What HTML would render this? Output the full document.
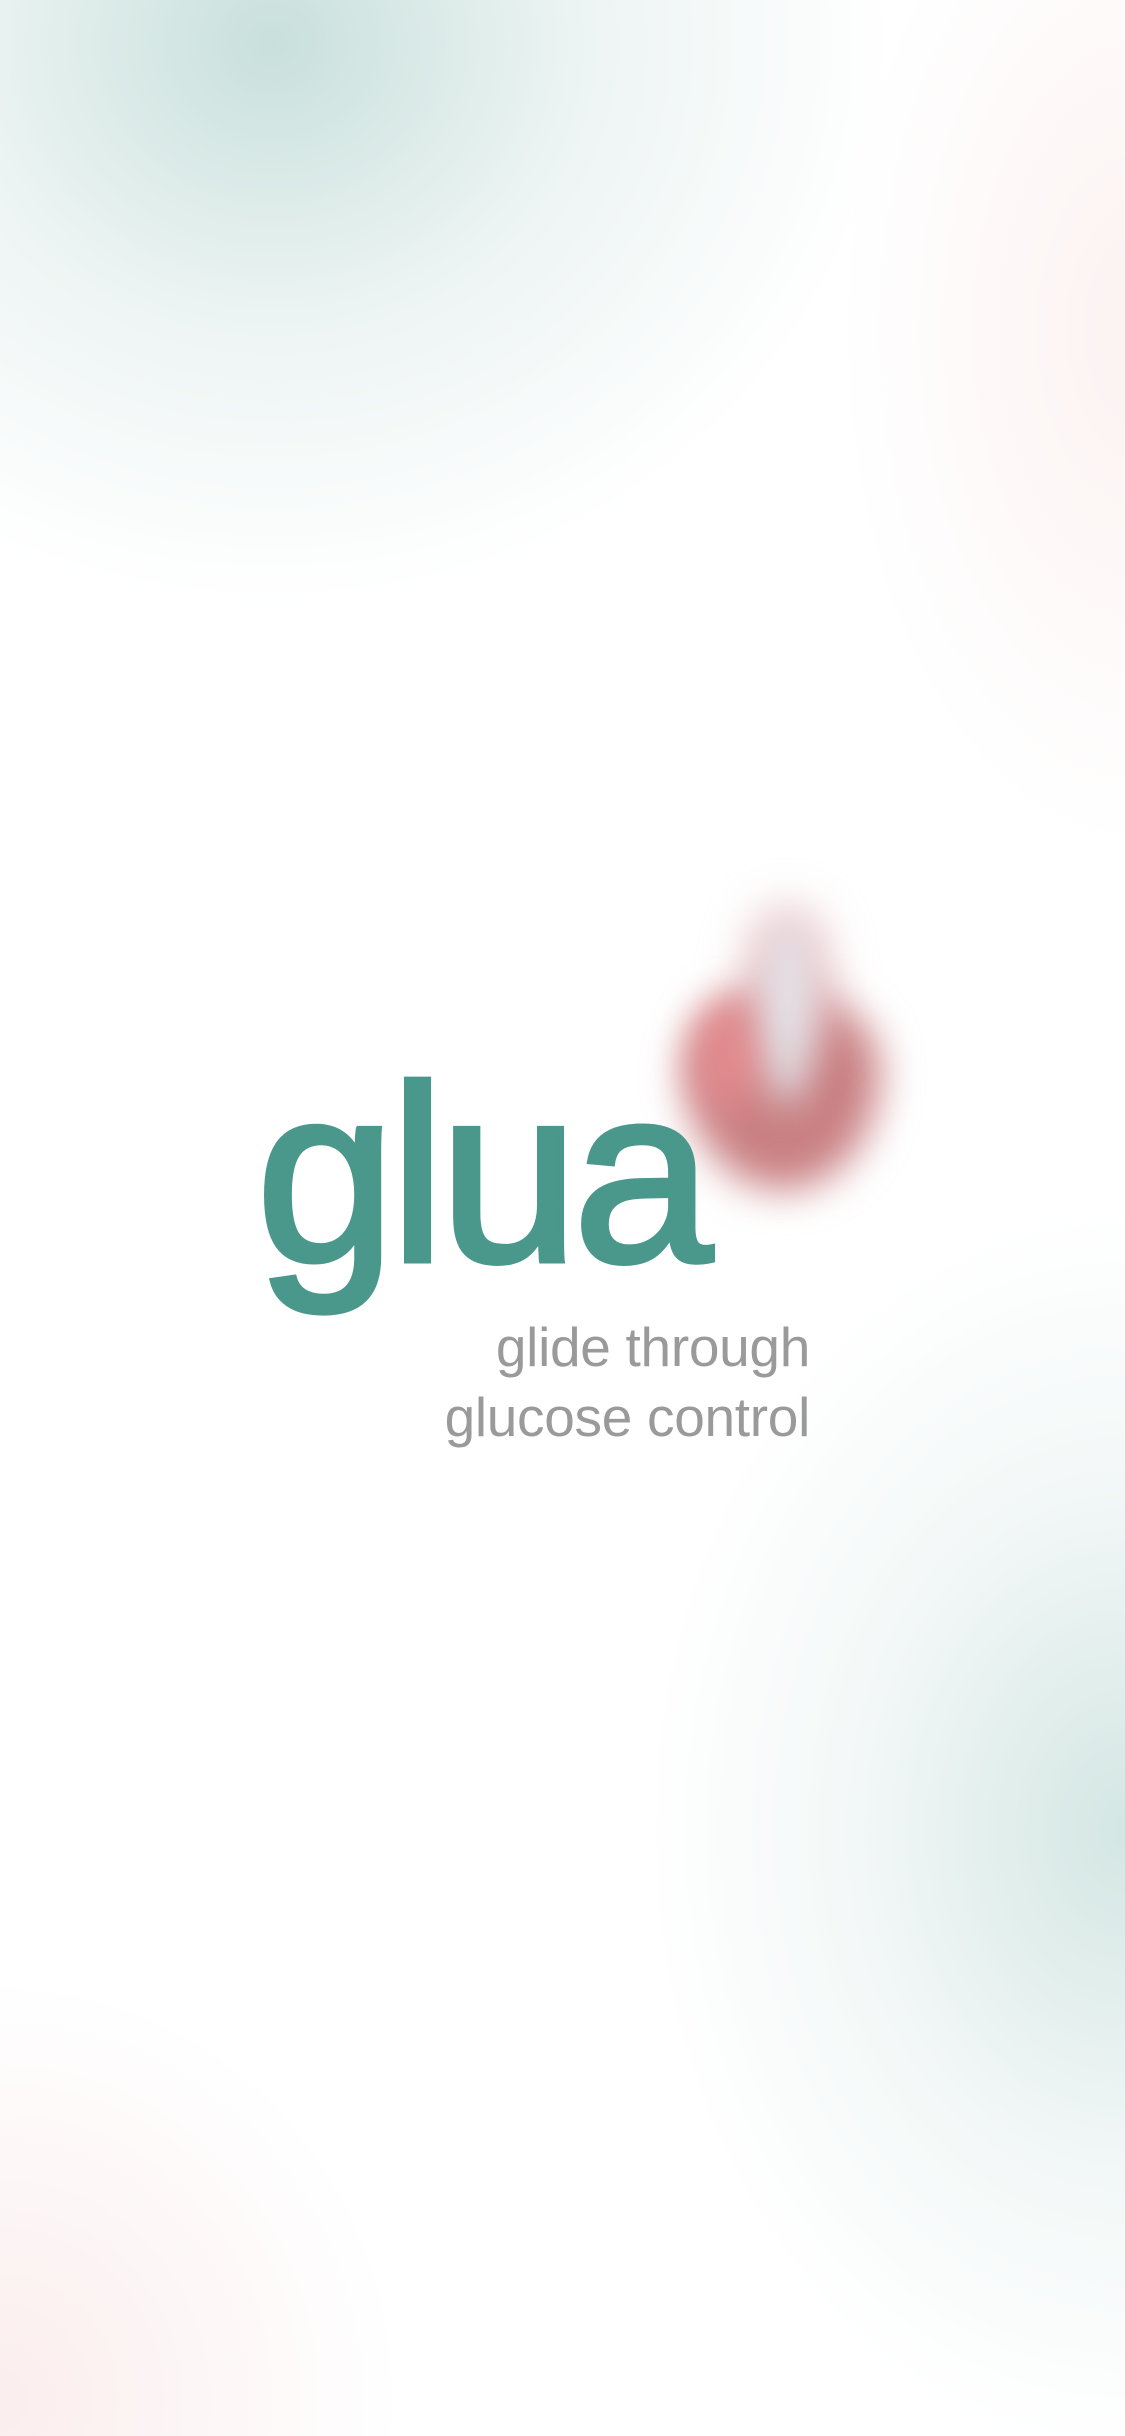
<!DOCTYPE html>
<html>
<head>
<meta charset="utf-8">
<style>
html,body{margin:0;padding:0;}
body{width:1125px;height:2436px;position:relative;overflow:hidden;background:#fff;font-family:"Liberation Sans",sans-serif;}
#bg{position:absolute;left:0;top:0;width:1125px;height:2436px;overflow:hidden;}
#logo{position:absolute;left:256px;top:1050px;font-size:251px;font-weight:normal;color:#4a978b;-webkit-text-stroke:5px #4a978b;letter-spacing:-6px;line-height:1;white-space:nowrap;}
.tag{position:absolute;right:315px;font-size:55px;color:#9a9a9a;line-height:1;letter-spacing:-0.3px;white-space:nowrap;}
</style>
</head>
<body>
<div id="bg" style="background:
 radial-gradient(ellipse 620px 560px at 273px 43px, rgba(74,151,139,0.30), rgba(74,151,139,0.10) 50%, rgba(74,151,139,0) 100%),
 radial-gradient(ellipse 300px 520px at 1140px 330px, rgba(225,130,120,0.10), rgba(225,130,120,0) 100%),
 radial-gradient(ellipse 480px 620px at 1125px 1830px, rgba(74,151,139,0.24), rgba(74,151,139,0.07) 55%, rgba(74,151,139,0) 100%),
 radial-gradient(ellipse 400px 420px at 0px 2400px, rgba(225,130,130,0.14), rgba(225,130,130,0) 100%);">
</div>

<div style="position:absolute;left:640px;top:870px;width:290px;height:340px;">
  <div style="position:absolute;left:45px;top:120px;width:195px;height:200px;border-radius:50% 50% 50% 50% / 40% 40% 60% 60%;background:#c98083;filter:blur(20px);"></div>
  <div style="position:absolute;left:110px;top:40px;width:75px;height:140px;border-radius:50% 50% 30% 30%;background:#e2b2b6;filter:blur(24px);"></div>
  <div style="position:absolute;left:55px;top:130px;width:70px;height:110px;border-radius:50%;background:#e38b8e;filter:blur(20px);"></div>
  <div style="position:absolute;left:122px;top:50px;width:52px;height:185px;border-radius:50%;background:rgba(228,236,242,0.85);filter:blur(18px);"></div>
</div>

<div id="logo">glua</div>
<div class="tag" style="top:1320px;">glide through</div>
<div class="tag" style="top:1390px;">glucose control</div>
</body>
</html>
